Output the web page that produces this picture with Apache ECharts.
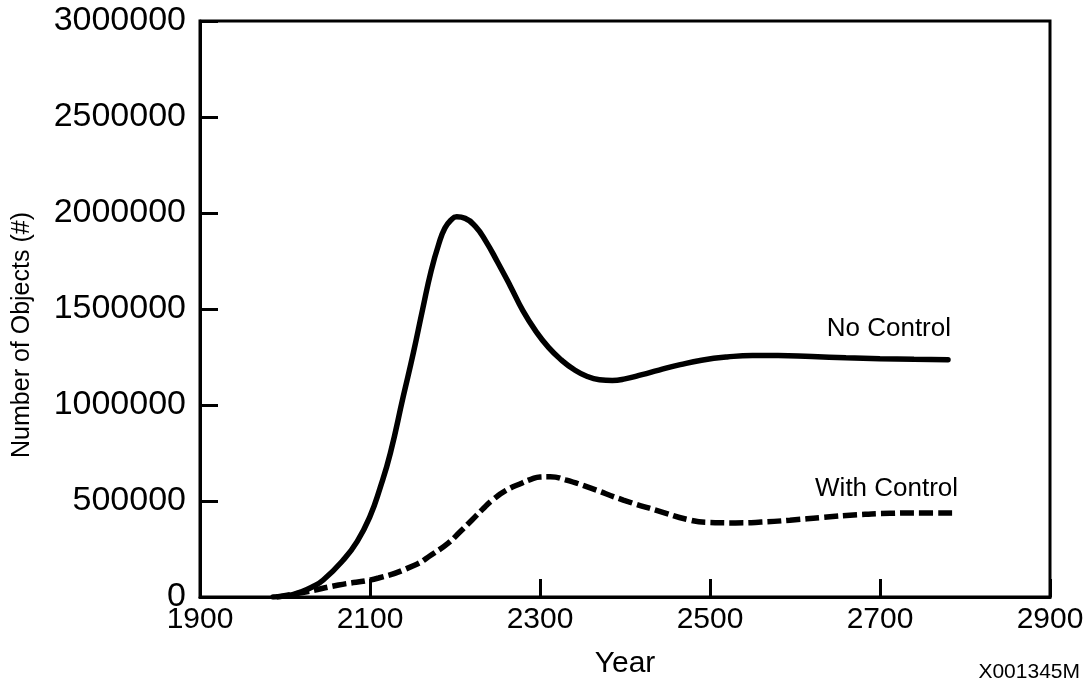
<!DOCTYPE html>
<html>
<head>
<meta charset="utf-8">
<script src="https://cdn.jsdelivr.net/npm/echarts@6/dist/echarts.min.js"></script>
<style>
  html, body { margin: 0; padding: 0; background: #fff; }
  #chart { width: 1091px; height: 684px; }
</style>
</head>
<body>
<div id="chart"></div>
<script>
// Population of objects over time, with and without control measures
const noControlYears = [1986, 2003, 2018, 2032, 2045, 2068, 2085, 2100, 2112, 2124, 2139, 2151, 2162, 2172, 2181, 2188, 2195, 2202, 2212, 2224, 2236, 2250, 2265, 2280, 2295, 2310, 2325, 2340, 2355, 2370, 2385, 2400, 2420, 2440, 2465, 2490, 2520, 2550, 2580, 2620, 2660, 2700, 2740, 2780];
const noControlValues = [0, 7000, 26000, 52000, 88500, 190000, 290000, 420000, 570000, 750000, 1042000, 1271000, 1500000, 1700000, 1840000, 1920000, 1962000, 1980000, 1972000, 1930000, 1855000, 1745000, 1620000, 1490000, 1385000, 1300000, 1235000, 1185000, 1150000, 1132000, 1128000, 1136000, 1158000, 1182000, 1210000, 1233000, 1250000, 1258000, 1258000, 1252000, 1246000, 1241000, 1238000, 1236000];

const withControlYears = [1990, 2024, 2063, 2110, 2153, 2172, 2192, 2206, 2220, 2232, 2244, 2260, 2279, 2290, 2300, 2312, 2330, 2359, 2398, 2438, 2477, 2500, 2530, 2560, 2594, 2633, 2673, 2712, 2751, 2786];
const withControlValues = [0, 26000, 62500, 99000, 167000, 219000, 281000, 340000, 401000, 455000, 505000, 555000, 594000, 614000, 625000, 626000, 610000, 568000, 505000, 450000, 400000, 388000, 386000, 390000, 400000, 415000, 428000, 436000, 438000, 438000];

const seriesNames = ['No Control', 'With Control'];

const FONT = '"Liberation Sans", Arial, Helvetica, sans-serif';

function pairs(xs, ys) {
  return xs.map((x, i) => [x, ys[i]]);
}

const chart = echarts.init(document.getElementById('chart'), null, { renderer: 'canvas' });

chart.setOption({
  backgroundColor: '#fff',
  animation: false,
  grid: {
    left: 200, right: 41, top: 21, bottom: 87,
    show: true, borderColor: '#000', borderWidth: 3, backgroundColor: 'transparent'
  },
  xAxis: {
    type: 'value', min: 1900, max: 2900, interval: 200,
    name: 'Year', nameLocation: 'middle', nameGap: 52,
    nameTextStyle: { fontFamily: FONT, fontSize: 30, color: '#000' },
    axisLine: { show: true, lineStyle: { color: '#000', width: 3 } },
    axisTick: { show: true, inside: true, length: 18, lineStyle: { color: '#000', width: 3 } },
    axisLabel: { fontFamily: FONT, fontSize: 30, color: '#000', margin: 8, formatter: v => String(v) },
    splitLine: { show: false }
  },
  yAxis: {
    type: 'value', min: 0, max: 3000000, interval: 500000,
    axisLine: { show: true, lineStyle: { color: '#000', width: 3 } },
    axisTick: { show: true, inside: true, length: 18, lineStyle: { color: '#000', width: 3 } },
    axisLabel: { fontFamily: FONT, fontSize: 34, color: '#000', margin: 14, formatter: v => String(v) },
    splitLine: { show: false }
  },
  graphic: [
    {
      type: 'text', x: 22, y: 335, rotation: Math.PI / 2,
      style: { text: 'Number of Objects (#)', fontFamily: FONT, fontSize: 25, fill: '#000', align: 'center', verticalAlign: 'middle' }
    },
    {
      type: 'text', x: 1080, y: 672,
      style: { text: 'X001345M', fontFamily: FONT, fontSize: 21, fill: '#000', align: 'right', verticalAlign: 'middle' }
    }
  ],
  series: [
    {
      name: seriesNames[0], type: 'line', smooth: 0.5, showSymbol: false,
      data: pairs(noControlYears, noControlValues),
      lineStyle: { color: '#000', width: 5.5, cap: 'round' },
      endLabel: {
        show: true, formatter: '{a}', fontFamily: FONT, fontSize: 26, color: '#000',
        align: 'right', verticalAlign: 'middle', offset: [-5, -31]
      }
    },
    {
      name: seriesNames[1], type: 'line', smooth: 0.5, showSymbol: false,
      data: pairs(withControlYears, withControlValues),
      lineStyle: { color: '#000', width: 5.5, type: [14, 5] },
      endLabel: {
        show: true, formatter: '{a}', fontFamily: FONT, fontSize: 26, color: '#000',
        align: 'right', verticalAlign: 'middle', offset: [-3, -24]
      }
    }
  ]
});
</script>
</body>
</html>
